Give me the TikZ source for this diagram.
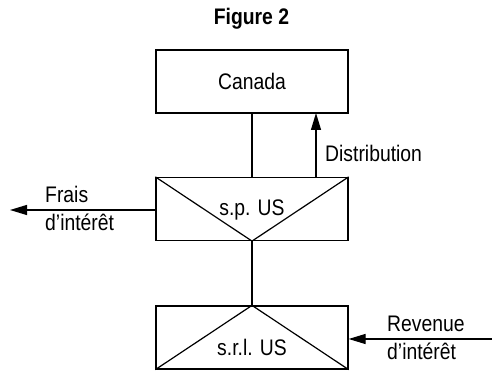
\documentclass[tikz,border=0pt]{standalone}
\usepackage{fontspec}
\setmainfont[FakeStretch=0.86]{Liberation Sans}
\usetikzlibrary{arrows.meta}
\tikzset{
  entity/.style={draw, line width=1.2pt, minimum width=192pt, minimum height=63pt, inner sep=0pt},
  lbl/.style={inner sep=0pt, anchor=base west, font=\fontsize{22.5pt}{26pt}\selectfont},
  conn/.style={line width=1.2pt},
  arr/.style={line width=1.2pt, -{Triangle[length=17pt,width=10pt]}}
}
\begin{document}
\begin{tikzpicture}[x=1pt,y=1pt]
\useasboundingbox (0,0) rectangle (492,371);
\node[inner sep=0pt, anchor=base, font=\fontsize{22.5pt}{26pt}\selectfont\bfseries] (title) at (251.5,346) {Figure 2};
\node[entity] (canada) at (252,289.5) {};
\node[entity] (sp) at (252,162) {};
\node[entity] (srl) at (252,33.5) {};
\node[inner sep=0pt, font=\fontsize{22.5pt}{26pt}\selectfont] (tcanada) at (252,289.5) {Canada};
\node[inner sep=0pt, font=\fontsize{22.5pt}{26pt}\selectfont] (tsp) at (252,161) {s.p. US};
\node[inner sep=0pt, font=\fontsize{22.5pt}{26pt}\selectfont] (tsrl) at (252,24) {s.r.l. US};
\draw[conn] (sp.north west) -- (sp.south) -- (sp.north east);
\draw[conn] (srl.south west) -- (srl.north) -- (srl.south east);
\draw[conn] (canada.south) -- (sp.north);
\draw[conn] (sp.south) -- (srl.north);
\coordinate (dbot) at (316,194);
\coordinate (dtop) at (316,258);
\draw[arr] (dbot) -- (dtop);
\node[lbl] (dist) at (325,209) {Distribution};
\coordinate (fend) at (10,161);
\draw[arr] (sp.west |- fend) -- (fend);
\node[lbl] (frais1) at (45,168) {Frais};
\node[lbl] (frais2) at (45,140) {d’intérêt};
\coordinate (rstart) at (492,32);
\draw[arr] (rstart) -- (srl.east |- rstart);
\node[lbl] (rev1) at (387,39) {Revenue};
\node[lbl] (rev2) at (387,11) {d’intérêt};
\end{tikzpicture}
\end{document}
